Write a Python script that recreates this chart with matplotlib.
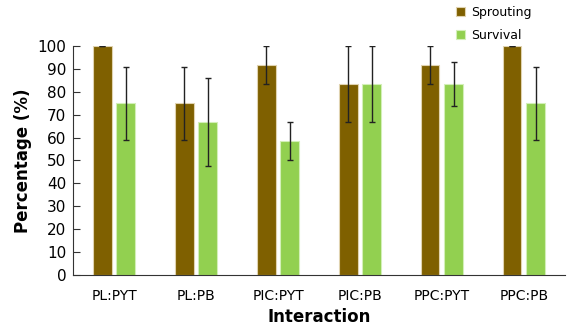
import numpy as np
import matplotlib.pyplot as plt

categories = ['PL:PYT', 'PL:PB', 'PIC:PYT', 'PIC:PB', 'PPC:PYT', 'PPC:PB']
sprouting = [100, 75, 91.67, 83.33, 91.67, 100]
survival = [75, 66.67, 58.33, 83.33, 83.33, 75]
sprouting_err = [0, 16, 8.33, 16.67, 8.33, 0]
survival_err = [16, 19.2, 8.33, 16.67, 9.6, 16]

plt.rcParams['font.family'] = 'DejaVu Sans'

fig = plt.figure(figsize=(5.72, 3.35), dpi=100)
ax = fig.add_axes([0.128, 0.179, 0.86, 0.684])

x = np.arange(len(categories))
w = 0.225
ax.bar(x - 0.145, sprouting, w, color='#7F6000', edgecolor='#e0d3b0', linewidth=0.8,
       yerr=sprouting_err, error_kw=dict(ecolor='#222222', elinewidth=1, capsize=2, capthick=1),
       label='Sprouting')
ax.bar(x + 0.14, survival, w, color='#92D050', edgecolor='#d3efb8', linewidth=0.8,
       yerr=survival_err, error_kw=dict(ecolor='#222222', elinewidth=1, capsize=2, capthick=1),
       label='Survival')

ax.set_xlim(-0.5, len(categories) - 0.5)
ax.set_ylim(0, 100)
ax.set_yticks(range(0, 101, 10))
ax.set_xticks(x)
ax.set_xticklabels(categories, fontsize=10)
ax.tick_params(axis='y', labelsize=11, length=5, direction='in', color='#333333', pad=5)
ax.tick_params(axis='x', length=0, pad=10)
for s in ['top', 'right']:
    ax.spines[s].set_visible(False)
for s in ['left', 'bottom']:
    ax.spines[s].set_color('#333333')

ax.set_xlabel('Interaction', fontsize=12, fontweight='bold', labelpad=4)
ax.set_ylabel('Percentage (%)', fontsize=12, fontweight='bold')

ax.legend(loc='upper left', bbox_to_anchor=(0.755, 1.225), frameon=False, fontsize=9,
          handlelength=0.7, handleheight=0.7, labelspacing=0.85, handletextpad=0.55)

fig.savefig('out.png', dpi=100)
